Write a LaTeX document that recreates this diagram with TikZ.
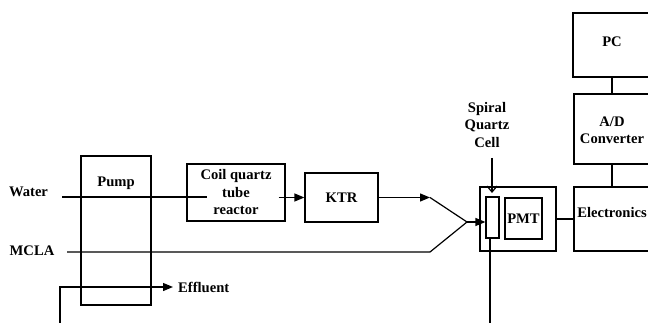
\documentclass[tikz,border=0pt]{standalone}
\usepackage{fontspec}
\setmainfont{Liberation Serif}
\usetikzlibrary{arrows.meta}
\begin{document}
\begin{tikzpicture}[x=1pt,y=-1pt,
  lbl/.style={font=\bfseries\fontsize{14.6}{17.5}\selectfont, align=center, inner sep=0pt},
  box/.style={draw, line width=1.2pt, rectangle, inner sep=0pt, font=\bfseries\fontsize{14.6}{17.5}\selectfont, align=center},
  ln/.style={line width=1.2pt},
  tri/.style={-{Triangle[length=10pt,width=8pt]}},
  barb/.style={-{Straight Barb[length=6pt,width=10pt]}}]
\useasboundingbox (0,0) rectangle (648,323);
\clip (0,0) rectangle (648,323);
% boxes
\node[box,minimum width=70pt,minimum height=149pt] (pump) at (116,230.5) {};
\node[lbl] (pumplbl) at (116,183) {Pump};
\node[box,minimum width=98pt,minimum height=57pt] (coil) at (236,192.5) {Coil quartz\\tube\\reactor};
\node[box,minimum width=73pt,minimum height=49pt] (ktr) at (341.5,197.5) {KTR};
\node[box,minimum width=76pt,minimum height=64pt] (cell) at (518,219) {};
\node[box,minimum width=13pt,minimum height=41pt] (spiral) at (492.5,217.5) {};
\node[box,minimum width=37pt,minimum height=41pt] (pmt) at (523.5,218.5) {PMT};
\node[box,minimum width=90pt,minimum height=64pt] (elec) at (619,219) {};
\node[lbl] (electxt) at (612,213) {Electronics};
\node[box,minimum width=90pt,minimum height=70pt] (adc) at (619,129) {};
\node[lbl] (adctxt) at (612,130.5) {A/D\\Converter};
\node[box,minimum width=91pt,minimum height=64pt] (pc) at (618.5,45) {};
\node[lbl] (pctxt) at (612,42) {PC};
% labels
\node[lbl] (water) at (28.5,192) {Water};
\node[lbl] (mcla) at (32,251) {MCLA};
\node[lbl,anchor=west] (effl) at (178,287) {Effluent};
\node[lbl] (sqc) at (487,125) {Spiral\\Quartz\\Cell};
% coordinates
\coordinate (wstart) at (62,197);
\coordinate (wend) at (207,197);
\coordinate (kink1) at (430,197.5);
\coordinate (join) at (467,222);
\coordinate (kink2) at (430,252);
\coordinate (mstart) at (67,252);
\coordinate (ebot) at (60,330);
\coordinate (sqstart) at (492,158);
\coordinate (sqtip) at (492,193);
\coordinate (sbot) at (490,330);
% connectors
\draw[ln] (wstart) -- (wend);
\draw[ln,tri] ([xshift=-7pt]coil.east |- ktr.west) -- (ktr.west);
\draw[ln,tri] (ktr.east) -- (kink1);
\draw[ln] (kink1) -- (join);
\draw[ln] (mstart) -- (kink2) -- (join);
\draw[ln,tri] (join) -- (spiral.west |- join);
\draw[ln,tri] (ebot) |- ([xshift=-5pt]effl.west);
\draw[ln,barb] (sqstart) -- (sqtip);
\draw[ln] (spiral.south -| sbot) -- (sbot);
\draw[ln] (cell.east) -- (elec.west |- cell.east);
\draw[ln] (elec.north -| electxt) -- (adc.south -| electxt);
\draw[ln] (adc.north -| adctxt) -- (pc.south -| adctxt);
\end{tikzpicture}
\end{document}
